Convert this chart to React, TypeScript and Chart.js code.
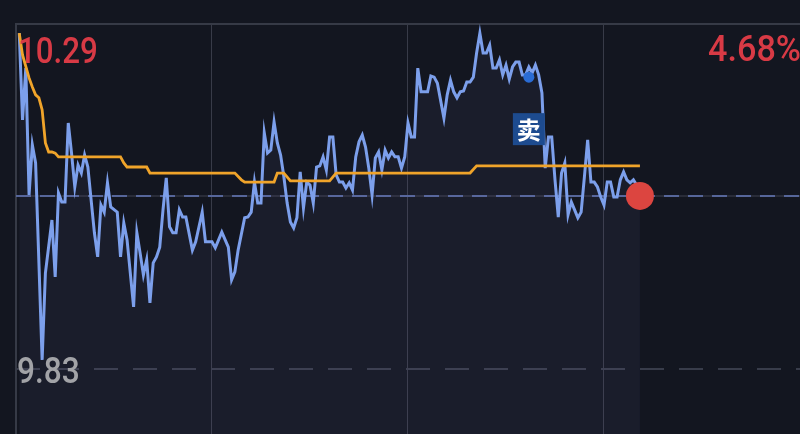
import React, { useEffect, useRef } from "react";
import { Chart, registerables } from "chart.js";

Chart.register(...registerables);

// ---- data (minute of session, price) ----
const priceMinutes = [1,2,3,4,5,6,8,9,11,12,13,14,15,16,17,18,19,20,21,22,23,24,25,26,27,28,29,31,32,33,34,36,37,38,39,40,41,42,43,44,45,46,47,48,49,50,51,52,54,55,57,58,60,61,63,65,66,67,68,70,71,72,73,74,75,76,77,78,79,80,81,82,83,84,85,86,87,88,89,90,91,92,93,94,95,96,97,98,99,100,101,102,103,104,105,106,107,108,109,110,111,112,113,114,115,116,117,118,119,120,121,122,123,124,126,127,128,129,131,132,133,134,135,136,137,138,139,140,141,142,143,144,145,146,147,148,149,150,151,152,153,154,155,156,157,158,159,160,161,162,163,164,165,166,167,168,169,170,171,172,173,174,175,176,177,178,179,180,181,182,183,184,185,186,187,188,189,190,191];
const prices = [10.263,10.032,10.170,9.833,9.966,9.918,9.394,9.625,9.766,9.615,9.838,9.814,9.814,10.024,9.944,9.854,9.912,9.891,9.939,9.907,9.819,9.732,9.668,9.806,9.787,9.865,9.801,9.787,9.668,9.758,9.713,9.535,9.732,9.678,9.620,9.660,9.546,9.652,9.668,9.694,9.793,9.878,9.748,9.732,9.732,9.793,9.774,9.774,9.686,9.708,9.787,9.708,9.708,9.692,9.734,9.694,9.607,9.628,9.686,9.772,9.774,9.787,9.867,9.811,9.811,9.998,9.944,9.952,10.027,9.971,9.939,9.881,9.811,9.761,9.745,9.772,9.894,9.798,9.867,9.859,9.811,9.907,9.910,9.934,9.899,9.987,9.987,9.886,9.867,9.867,9.851,9.865,9.846,9.934,9.974,9.992,9.960,9.904,9.833,9.931,9.947,9.899,9.952,9.931,9.947,9.934,9.934,9.904,9.934,10.024,9.987,9.987,10.170,10.107,10.107,10.149,10.146,10.130,10.037,10.099,10.138,10.107,10.091,10.107,10.109,10.133,10.133,10.146,10.210,10.263,10.210,10.210,10.231,10.170,10.170,10.192,10.152,10.178,10.141,10.173,10.186,10.186,10.152,10.152,10.173,10.157,10.178,10.152,10.104,9.904,9.987,9.987,9.873,9.774,9.891,9.918,9.780,9.814,9.793,9.772,9.787,9.881,9.979,9.867,9.867,9.854,9.827,9.806,9.867,9.867,9.827,9.827,9.873,9.894,9.873,9.865,9.873,9.859,9.830];

const avgMinutes = [1,2,4,5,6,7,8,9,10,11,12,13,32,33,34,40,41,67,69,70,79,80,82,84,96,98,139,141,191];
const avgPrices = [10.263,10.205,10.144,10.120,10.099,10.091,10.059,9.971,9.947,9.947,9.944,9.934,9.934,9.918,9.907,9.907,9.891,9.891,9.873,9.867,9.867,9.891,9.891,9.870,9.870,9.891,9.891,9.910,9.910];

const prevClose = 9.83;
const highLabelPrice = 10.29;
const lowLinePrice = 9.37;
const axisMin = 9.197;
const sessionMinutes = 240;
const gridMinutes = [60, 120, 180];

const topPriceLabel = "10.29";
const topPctLabel = "4.68%";
const bottomPriceLabel = "9.83";
const sellMinute = 157;
const sellPrice = 10.146;
const sellLabel = "卖";

const BG = "#131620";

function drawScaledText(ctx: CanvasRenderingContext2D, text: string, x: number, y: number, align: CanvasTextAlign, color: string, sx: number) {
  ctx.save();
  ctx.translate(x, y);
  ctx.scale(sx, 1);
  ctx.font = '500 36px Roboto, "DejaVu Sans", sans-serif';
  ctx.fillStyle = color;
  ctx.textAlign = align;
  ctx.textBaseline = "alphabetic";
  ctx.fillText(text, 0, 0);
  ctx.restore();
}

const overlayPlugin = {
  id: "overlay",
  beforeDatasetsDraw(chart: any) {
    const { ctx, chartArea, scales } = chart;
    const xs = scales.x, ys = scales.y;
    ctx.save();
    ctx.strokeStyle = "#383b48";
    ctx.lineWidth = 1;
    gridMinutes.forEach((m) => {
      const x = Math.round(xs.getPixelForValue(m)) - 0.5;
      ctx.beginPath();
      ctx.moveTo(x, chartArea.top);
      ctx.lineTo(x, chartArea.bottom);
      ctx.stroke();
    });
    ctx.fillStyle = "#363a46";
    ctx.fillRect(chartArea.left - 1, chartArea.top, chartArea.right - chartArea.left + 1, 2);
    ctx.fillRect(chartArea.left - 1, chartArea.top, 2, chartArea.bottom - chartArea.top);
    const yc = Math.round(ys.getPixelForValue(prevClose));
    ctx.lineWidth = 2;
    ctx.strokeStyle = "#292c38";
    ctx.beginPath();
    ctx.moveTo(chartArea.left, yc);
    ctx.lineTo(chartArea.right, yc);
    ctx.stroke();
    ctx.setLineDash([15, 9]);
    ctx.strokeStyle = "#56669a";
    ctx.beginPath();
    ctx.moveTo(chartArea.left, yc);
    ctx.lineTo(chartArea.right, yc);
    ctx.stroke();
    const yl = Math.round(ys.getPixelForValue(lowLinePrice));
    ctx.setLineDash([24, 15]);
    ctx.strokeStyle = "#383c4a";
    ctx.beginPath();
    ctx.moveTo(chartArea.left, yl);
    ctx.lineTo(chartArea.right, yl);
    ctx.stroke();
    ctx.restore();
  },
  afterDatasetsDraw(chart: any) {
    const { ctx, chartArea, scales } = chart;
    const xs = scales.x, ys = scales.y;
    ctx.save();
    drawScaledText(ctx, topPriceLabel, chartArea.left + 2, 62.5, "left", "#d83a45", 0.87);
    drawScaledText(ctx, topPctLabel, chartArea.right + 1, 60.5, "right", "#d83a45", 0.95);
    drawScaledText(ctx, bottomPriceLabel, chartArea.left + 1, 383, "left", "#a2a3a7", 0.88);
    const sx = xs.getPixelForValue(sellMinute);
    const sy = ys.getPixelForValue(sellPrice);
    ctx.fillStyle = "#2a6cd4";
    ctx.beginPath();
    ctx.arc(sx, sy, 5.5, 0, Math.PI * 2);
    ctx.fill();
    const bx = sx - 16, by = sy + 36;
    ctx.fillStyle = "#1d4b8f";
    ctx.fillRect(bx, by, 32, 32);
    ctx.fillStyle = "#ffffff";
    ctx.font = 'bold 24px "Noto Sans CJK SC", sans-serif';
    ctx.textAlign = "center";
    ctx.textBaseline = "middle";
    ctx.fillText(sellLabel, sx, by + 17);
    const lx = xs.getPixelForValue(priceMinutes[priceMinutes.length - 1]);
    const ly = ys.getPixelForValue(prices[prices.length - 1]);
    ctx.fillStyle = "#dc4540";
    ctx.beginPath();
    ctx.arc(lx, ly, 14, 0, Math.PI * 2);
    ctx.fill();
    ctx.restore();
  },
};

export default function App() {
  const ref = useRef<HTMLCanvasElement>(null);
  useEffect(() => {
    if (!ref.current) return;
    const chart = new Chart(ref.current, {
      type: "line",
      data: {
        datasets: [
          {
            label: "avg",
            data: avgMinutes.map((m, i) => ({ x: m, y: avgPrices[i] })),
            borderColor: "#f0a42a",
            borderWidth: 2.8,
            pointRadius: 0,
            fill: false,
            tension: 0,
            order: 1,
          },
          {
            label: "price",
            data: priceMinutes.map((m, i) => ({ x: m, y: prices[i] })),
            borderColor: "#7c9feb",
            borderWidth: 3,
            pointRadius: 0,
            fill: "start",
            backgroundColor: "rgba(130,125,205,0.07)",
            tension: 0,
            order: 2,
          },
        ],
      },
      options: {
        responsive: false,
        maintainAspectRatio: false,
        animation: false,
        events: [],
        layout: { padding: { left: 16, top: 23, right: 0, bottom: 0 } },
        plugins: { legend: { display: false }, tooltip: { enabled: false } },
        scales: {
          x: { type: "linear", display: false, min: 0, max: sessionMinutes },
          y: { type: "linear", display: false, min: axisMin, max: highLabelPrice },
        },
      },
      plugins: [overlayPlugin],
    });
    return () => chart.destroy();
  }, []);
  return (
    <div style={{ position: "fixed", left: 0, top: 0, width: 800, height: 434, background: BG, overflow: "hidden" }}>
      <canvas ref={ref} width={800} height={434} style={{ width: 800, height: 434, display: "block" }} />
    </div>
  );
}
